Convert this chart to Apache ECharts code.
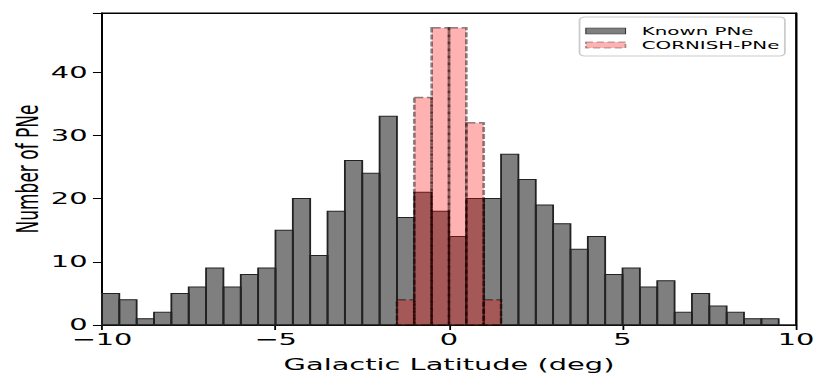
<!DOCTYPE html>
<html>
<head>
<meta charset="utf-8">
<script src="https://cdn.jsdelivr.net/npm/echarts@6/dist/echarts.min.js"></script>
<style>
  html, body { margin: 0; padding: 0; background: #fff; overflow: hidden; }
  /* the reference figure is stretched sideways, so draw narrow and stretch */
  #chart { width: 460px; height: 382px; transform: scaleX(1.8043); transform-origin: 0 0; }
</style>
</head>
<body>
<div id="chart"></div>
<script>
// histogram bins, 0.5 deg wide
const binWidth = 0.5;
const knownStart = -10;
const knownCounts = [5, 4, 1, 2, 5, 6, 9, 6, 8, 9,
                     15, 20, 11, 18, 26, 24, 33, 17, 21, 18,
                     14, 20, 20, 27, 23, 19, 16, 12, 14, 8,
                     9, 6, 7, 2, 5, 3, 2, 1, 1, 0];
const cornishStart = -1.5;
const cornishCounts = [4, 36, 47, 47, 32, 4];
const yTicks = [0, 10, 20, 30, 40];

const font = 'DejaVu Sans';

function toBins(start, counts) {
    return counts.map((c, i) => [start + i * binWidth, c]);
}

function renderBar(params, api) {
    const x0 = api.value(0);
    const top = api.coord([x0, api.value(1)]);
    const bottom = api.coord([x0 + binWidth, 0]);
    return {
        type: 'rect',
        shape: { x: top[0], y: top[1], width: bottom[0] - top[0], height: bottom[1] - top[1] },
        style: api.style()
    };
}

// plain axis used only as a frame line (top / right spines)
function frameAxis(pos) {
    return {
        type: 'value',
        position: pos,
        axisLine: { show: true, onZero: false, lineStyle: { color: '#000', width: 1 } },
        axisTick: { show: false },
        axisLabel: { show: false },
        splitLine: { show: false }
    };
}

const myChart = echarts.init(document.getElementById('chart'), null, { renderer: 'svg' });

const option = {
    animation: false,
    grid: {
        left: 56.5,
        right: 18.8,
        top: 13,
        bottom: 57,
        containLabel: false,
        outerBoundsMode: 'none',
        show: true,
        borderColor: '#000',
        borderWidth: 1
    },
    legend: {
        orient: 'vertical',
        right: 25,
        top: 17,
        icon: 'rect',
        itemWidth: 22,
        itemHeight: 6,
        itemGap: 0,
        padding: [7, 3, 4, 3],
        backgroundColor: 'rgba(255,255,255,0.8)',
        borderColor: '#cccccc',
        borderWidth: 1,
        borderRadius: 3,
        textStyle: { fontFamily: font, fontSize: 11, color: '#000', lineHeight: 14, padding: [0, 0, 0, 4] },
        data: [
            { name: 'Known PNe', itemStyle: { borderColor: '#333', borderWidth: 0.6 } },
            { name: 'CORNISH-PNe', itemStyle: { borderColor: 'rgba(0,0,0,0.35)', borderWidth: 1, borderType: [4, 2] } }
        ]
    },
    xAxis: [
        {
            type: 'value',
            min: -10,
            max: 10,
            interval: 5,
            name: 'Galactic Latitude (deg)',
            nameLocation: 'middle',
            nameGap: 32,
            nameMoveOverlap: false,
            nameTextStyle: { fontFamily: font, fontSize: 16, color: '#000' },
            splitLine: { show: false },
            axisLine: { onZero: false, lineStyle: { color: '#000', width: 1 } },
            axisTick: { length: 5, lineStyle: { color: '#000' } },
            axisLabel: {
                margin: 7,
                fontFamily: font,
                fontSize: 16,
                color: '#000',
                formatter: v => (v < 0 ? '\u2212' + (-v) : String(v))
            }
        },
        Object.assign(frameAxis('top'), { min: -10, max: 10 })
    ],
    yAxis: [
        {
            type: 'value',
            min: 0,
            max: 49.35,
            interval: 10,
            name: 'Number of PNe',
            nameLocation: 'middle',
            nameGap: 33,
            nameMoveOverlap: false,
            nameTextStyle: { fontFamily: font, fontSize: 17, color: '#000' },
            splitLine: { show: false },
            axisLine: { show: true, onZero: false, lineStyle: { color: '#000', width: 1 } },
            axisTick: { show: true, length: 5, lineStyle: { color: '#000' } },
            axisLabel: {
                margin: 8,
                fontFamily: font,
                fontSize: 16,
                lineHeight: 12,
                color: '#000',
                formatter: v => (yTicks.indexOf(v) >= 0 ? String(v) : '')
            }
        },
        Object.assign(frameAxis('right'), { min: 0, max: 49.35 })
    ],
    series: [
        {
            name: 'Known PNe',
            type: 'custom',
            renderItem: renderBar,
            itemStyle: { color: 'rgba(0,0,0,0.5)', borderColor: '#222', borderWidth: 1 },
            encode: { x: 0, y: 1 },
            data: toBins(knownStart, knownCounts),
            z: 2
        },
        {
            name: 'CORNISH-PNe',
            type: 'custom',
            renderItem: renderBar,
            itemStyle: {
                color: 'rgba(255,0,0,0.3)',
                borderColor: 'rgba(0,0,0,0.45)',
                borderWidth: 1.5,
                borderType: [5, 2]
            },
            encode: { x: 0, y: 1 },
            data: toBins(cornishStart, cornishCounts),
            z: 3
        }
    ]
};

myChart.setOption(option);
</script>
</body>
</html>
